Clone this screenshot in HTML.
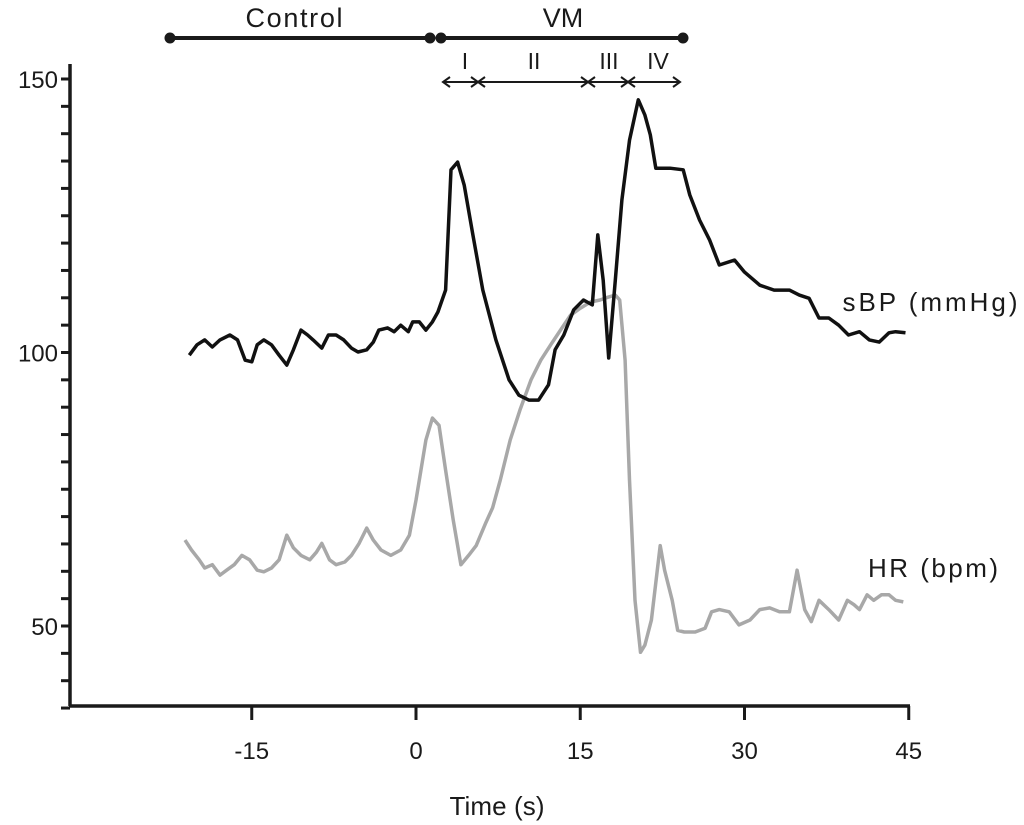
<!DOCTYPE html>
<html><head><meta charset="utf-8"><style>
body{margin:0;background:#fff;}
svg{display:block;font-family:"Liberation Sans",Arial,sans-serif;}
</style></head><body>
<svg id="chart" width="1024" height="825" viewBox="0 0 1024 825">
<g id="axes"></g>
<g id="series"></g>
<g stroke="#1a1a1a" fill="#1a1a1a">
  <line x1="170" y1="38" x2="430" y2="38" stroke-width="4"/>
  <circle cx="170" cy="38" r="5"/>
  <circle cx="430" cy="38" r="5"/>
  <line x1="441" y1="38" x2="683" y2="38" stroke-width="4"/>
  <circle cx="441" cy="38" r="5"/>
  <circle cx="683" cy="38" r="5"/>
  <text x="294" y="27" font-size="27" textLength="97" text-anchor="middle" stroke="none">Control</text>
  <text x="563" y="27" font-size="27" text-anchor="middle" stroke="none">VM</text>
  <g stroke-width="2" fill="none">
    <line x1="443" y1="82" x2="478" y2="82"/><path d="M450 77 L443 82 L450 87 M471 77 L478 82 L471 87"/>
    <line x1="478" y1="82" x2="588" y2="82"/><path d="M485 77 L478 82 L485 87 M581 77 L588 82 L581 87"/>
    <line x1="588" y1="82" x2="628" y2="82"/><path d="M595 77 L588 82 L595 87 M621 77 L628 82 L621 87"/>
    <line x1="628" y1="82" x2="680" y2="82"/><path d="M635 77 L628 82 L635 87 M673 77 L680 82 L673 87"/>
  </g>
  <g font-size="23" text-anchor="middle" stroke="none">
    <text x="465" y="69">I</text>
    <text x="534" y="69">II</text>
    <text x="609" y="69">III</text>
    <text x="658" y="69">IV</text>
  </g>
</g>
<text x="930" y="311" font-size="26" textLength="175" text-anchor="middle" fill="#1a1a1a">sBP (mmHg)</text>
<text x="933" y="577" font-size="26" textLength="130" text-anchor="middle" fill="#1a1a1a">HR (bpm)</text>
<text x="497" y="815" font-size="26" textLength="95" text-anchor="middle" fill="#1a1a1a">Time (s)</text>
</svg>
<script>
const xTicks = [-15, 0, 15, 30, 45];
const yLabels = [50, 100, 150];
const sbpTime = [-20.7,-20,-19.3,-18.6,-17.9,-17,-16.3,-15.6,-15,-14.5,-13.9,-13.2,-12.5,-11.8,-11.2,-10.5,-9.9,-9.4,-8.6,-8,-7.3,-6.6,-5.9,-5.3,-4.5,-3.9,-3.4,-2.6,-2,-1.4,-0.7,-0.3,0.3,0.9,1.5,2,2.7,3.2,3.8,4.4,5.2,6.1,7.3,8.5,9.4,10.3,11.2,12.1,12.7,13.5,14.4,15.3,16.1,16.6,17.1,17.6,18.2,18.8,19.5,20.3,20.9,21.4,21.9,23.2,24.4,25,25.9,26.8,27.7,29.1,30,31.4,32.7,34.1,35,35.9,36.8,37.7,38.6,39.5,40.5,41.4,42.3,43.2,43.8,44.7];
const sbpValues = [99.5,101.4,102.3,101,102.3,103.2,102.3,98.6,98.3,101.4,102.3,101.4,99.5,97.7,100.5,104.1,103.2,102.3,100.8,103.2,103.2,102.3,100.8,100.1,100.5,101.9,104.1,104.5,103.8,105,103.8,105.6,105.6,104.1,105.6,107.4,111.4,133.4,134.8,130.6,121.5,111.4,102.3,95,92.2,91.3,91.3,94.1,100.5,103.2,107.8,109.6,108.7,121.5,113.2,99,113.2,127.9,138.8,146.2,143.4,139.8,133.7,133.7,133.4,128.8,124.2,120.6,116,116.9,114.7,112.3,111.4,111.4,110.5,109.9,106.3,106.3,105,103.2,103.8,102.3,101.9,103.6,103.8,103.6];
const hrTime = [-21.1,-20.5,-19.8,-19.3,-18.6,-17.9,-17.3,-16.6,-15.9,-15.2,-14.5,-13.9,-13.2,-12.5,-11.8,-11.2,-10.5,-9.7,-9.1,-8.6,-7.9,-7.3,-6.5,-5.9,-5.2,-4.5,-3.9,-3.2,-2.3,-1.4,-0.6,0,0.9,1.5,2.1,2.7,3.4,4.1,4.8,5.5,6.4,7,7.7,8.6,9.5,10.5,11.4,12.3,13.2,14.1,15,15.9,16.8,17.5,18.2,18.6,19.1,19.5,20,20.5,20.9,21.5,22.3,22.7,23.4,23.9,24.5,25.5,26.4,27,27.7,28.6,29.5,30.5,31.4,32.3,33.2,34.1,34.8,35.5,36.1,36.8,37.7,38.6,39.4,40,40.5,41.2,41.8,42.5,43.2,43.8,44.5];
const hrValues = [65.7,63.9,62.1,60.6,61.2,59.3,60.2,61.2,62.9,62.1,60.2,59.9,60.6,62.1,66.6,64.3,62.9,62.1,63.5,65.1,62.1,61.2,61.7,62.9,65.1,67.9,65.7,63.9,62.9,63.9,66.6,73,84,88,86.7,78.5,69.4,61.2,62.9,64.7,69,71.6,76.7,84,89.5,95,98.6,101.4,104.1,106.8,108.1,109.2,109.6,110.1,110.5,109.6,98.6,76.7,54.7,45.2,46.5,51.1,64.7,60.2,54.7,49.2,48.9,48.9,49.6,52.6,53,52.6,50.2,51.1,53,53.3,52.6,52.6,60.2,53,50.8,54.7,53,51.1,54.7,53.9,53,55.7,54.7,55.7,55.7,54.7,54.4];

const NS = 'http://www.w3.org/2000/svg';
const X0 = 70, XR = 910, YB = 706, YT = 64;
function xs(t){ return 416 + t * 10.95; }
function ys(v){ return 626 - (v - 50) * 5.47; }
function mk(tag, attrs, parent){
  const e = document.createElementNS(NS, tag);
  for (const k in attrs) e.setAttribute(k, attrs[k]);
  parent.appendChild(e); return e;
}
const axes = document.getElementById('axes');
const yAxis = mk('line', {x1:X0, y1:YT, x2:X0, y2:YB, stroke:'#1a1a1a', 'stroke-width':3.5}, axes);


const xAxis = mk('line', {x1:X0-1, y1:YB, x2:XR, y2:YB, stroke:'#1a1a1a', 'stroke-width':3.5}, axes);


for (let v = 35; v <= 150; v += 5) {
  const tk = mk('line', {x1:X0-9, y1:ys(v), x2:X0, y2:ys(v), stroke:'#1a1a1a', 'stroke-width':3}, axes);
  
  
}
yLabels.forEach(v => {
  const t = mk('text', {x:X0-12, y:ys(v)+9, 'font-size':24, 'text-anchor':'end', fill:'#1a1a1a'}, axes);
  t.textContent = v;
  
  
});
xTicks.forEach(v => {
  const tk = mk('line', {x1:xs(v), y1:YB, x2:xs(v), y2:YB+14, stroke:'#1a1a1a', 'stroke-width':3}, axes);
  
  
  const t = mk('text', {x:xs(v), y:759, 'font-size':24, 'text-anchor':'middle', fill:'#1a1a1a'}, axes);
  t.textContent = v;
  
  
});
const series = document.getElementById('series');
function pathD(ts, vs){ return ts.map((t,i)=>(i?'L':'M')+xs(t).toFixed(1)+' '+ys(vs[i]).toFixed(1)).join(' '); }
const hr = mk('path', {d:pathD(hrTime, hrValues), fill:'none', stroke:'#a8a8a8', 'stroke-width':3.5, 'stroke-linejoin':'round'}, series);


const sbp = mk('path', {d:pathD(sbpTime, sbpValues), fill:'none', stroke:'#111', 'stroke-width':3.5, 'stroke-linejoin':'round'}, series);


</script>
</body></html>
